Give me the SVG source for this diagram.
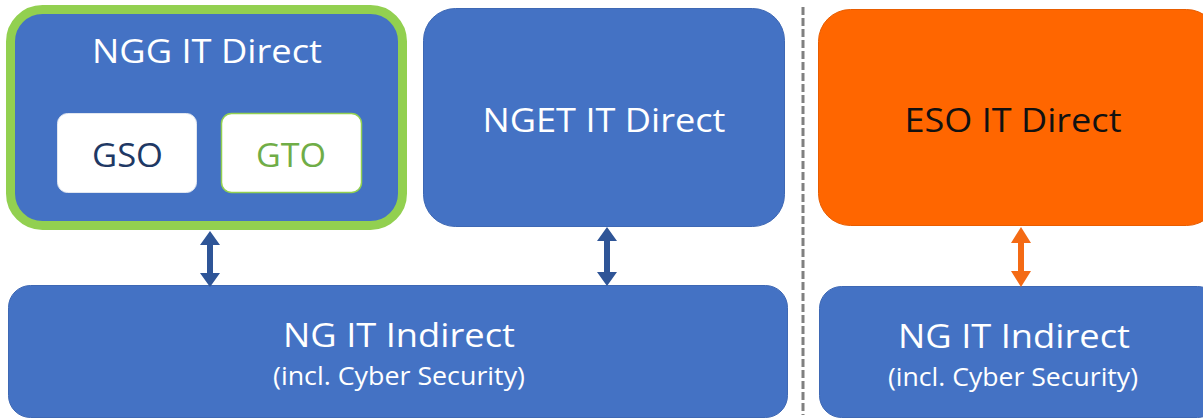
<svg xmlns="http://www.w3.org/2000/svg" width="1203" height="420" viewBox="0 0 1203 420">
<style>
.box{fill:#4472C4;stroke:#3E68B4;stroke-width:1}
.t{font-family:"Open Sans","Liberation Sans",sans-serif;text-anchor:middle}
.w{fill:#FFFFFF}
.big{font-size:33px}
.small{font-size:25px}
.arr{fill:#2F5597}
.arro{fill:#F46A14}
</style>
<rect width="1203" height="420" fill="#FFFFFF"/>
<line x1="803" y1="7" x2="803" y2="415" stroke="#808080" stroke-width="3" stroke-dasharray="8,3"/>
<g id="ngg">
<rect x="10.5" y="9.5" width="392" height="216" rx="32" fill="#4472C4" stroke="#92D050" stroke-width="9"/>
<text class="t w big" x="207" y="63" textLength="230" lengthAdjust="spacingAndGlyphs">NGG IT Direct</text>
</g>
<g id="gso">
<rect x="57.5" y="113.5" width="139" height="79" rx="10" fill="#FFFFFF" stroke="#E0E6F0" stroke-width="1"/>
<text class="t big" x="127.5" y="167" fill="#203864" textLength="71" lengthAdjust="spacingAndGlyphs">GSO</text>
</g>
<g id="gto">
<rect x="221.5" y="113.5" width="140" height="79" rx="10" fill="#FFFFFF" stroke="#92D050" stroke-width="1.5"/>
<text class="t big" x="291" y="167" fill="#70AD47" textLength="70" lengthAdjust="spacingAndGlyphs">GTO</text>
</g>
<g id="nget">
<rect class="box" x="423.5" y="8.5" width="361" height="218" rx="32"/>
<text class="t w big" x="604" y="132" textLength="243" lengthAdjust="spacingAndGlyphs">NGET IT Direct</text>
</g>
<g id="eso">
<rect x="818.5" y="9.5" width="400" height="216" rx="32" fill="#FF6600" stroke="#E85D00" stroke-width="1"/>
<text class="t big" x="1013" y="132" fill="#111111" textLength="217" lengthAdjust="spacingAndGlyphs">ESO IT Direct</text>
</g>
<g id="indirect-left">
<rect class="box" x="8.5" y="285.5" width="779" height="132" rx="22"/>
<text class="t w big" x="399" y="347" textLength="232" lengthAdjust="spacingAndGlyphs">NG IT Indirect</text>
<text class="t w small" x="399" y="385" textLength="252" lengthAdjust="spacingAndGlyphs">(incl. Cyber Security)</text>
</g>
<g id="indirect-right">
<rect class="box" x="819.5" y="286.5" width="400" height="131" rx="22"/>
<text class="t w big" x="1014" y="348" textLength="232" lengthAdjust="spacingAndGlyphs">NG IT Indirect</text>
<text class="t w small" x="1013" y="386" textLength="250" lengthAdjust="spacingAndGlyphs">(incl. Cyber Security)</text>
</g>
<g id="connectors">
<path class="arr" d="M210,231 L220,245 L213,245 L213,273 L220,273 L210,287 L200,273 L207,273 L207,245 L200,245 Z"/>
<path class="arr" d="M607,227 L617,241 L610,241 L610,272 L617,272 L607,286 L597,272 L604,272 L604,241 L597,241 Z"/>
<path class="arro" d="M1021,227 L1031,243 L1024,243 L1024,271 L1031,271 L1021,287 L1011,271 L1018,271 L1018,243 L1011,243 Z"/>
</g>
</svg>
